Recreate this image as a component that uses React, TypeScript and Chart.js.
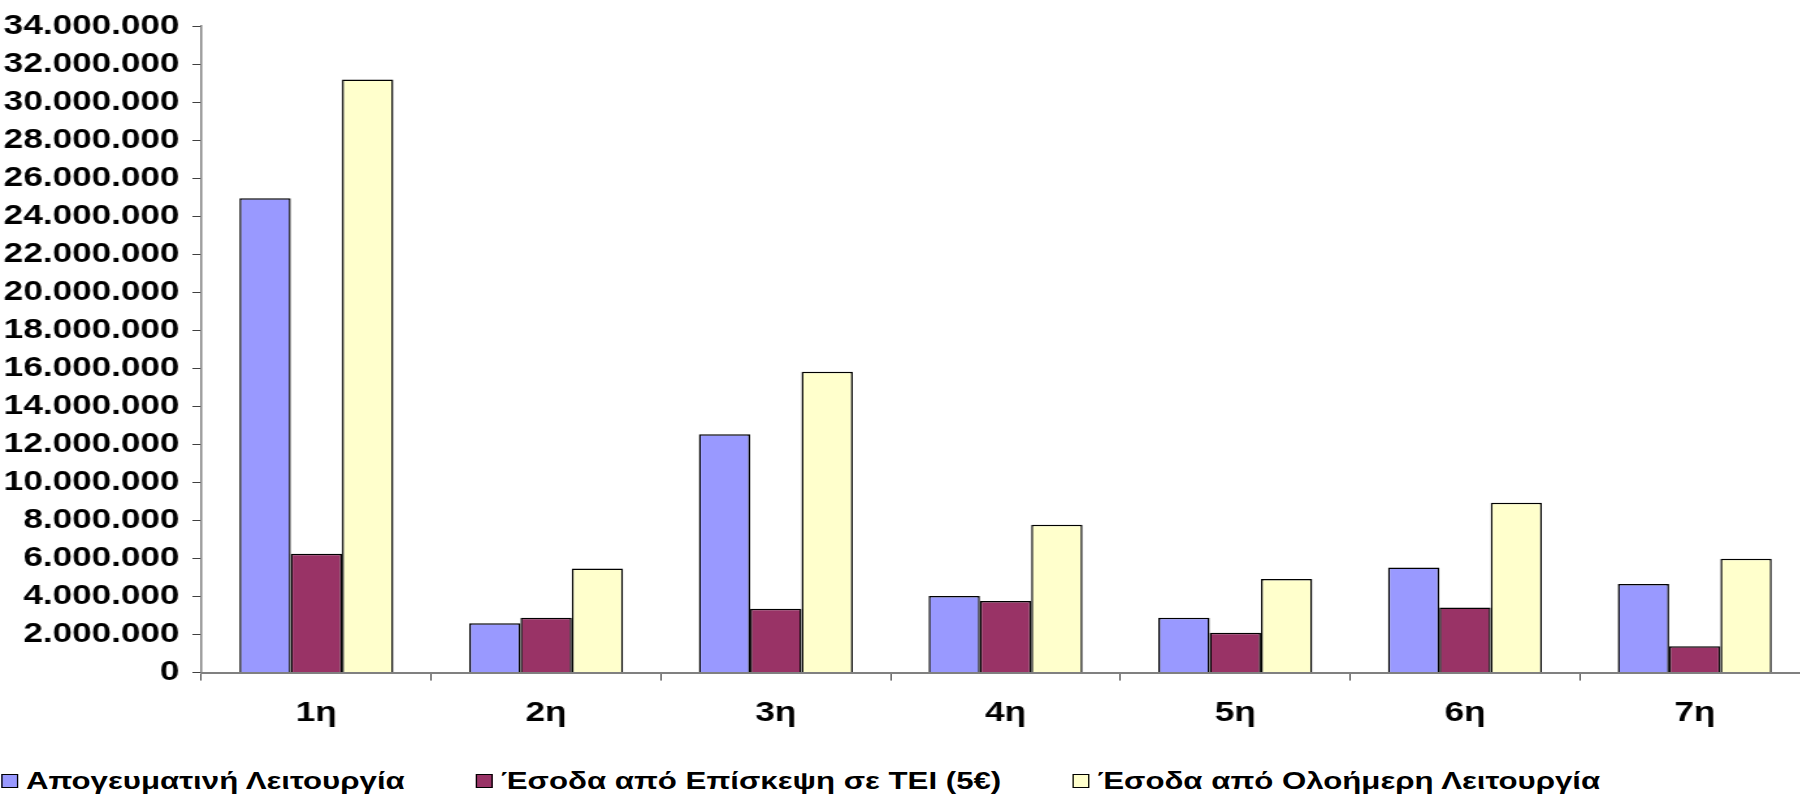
import { useEffect, useRef } from 'react';
import { Chart, registerables, type ChartConfiguration } from 'chart.js';

Chart.register(...registerables);

// the reference is drawn ~1.3x wider than tall, so the whole chart is laid out
// at 1384px and stretched horizontally to 1800px
const STRETCH = 1.3;
const FONT = '"Liberation Sans", Arial, sans-serif';

const categories = ['1η', '2η', '3η', '4η', '5η', '6η', '7η'];
const seriesNames = [
  'Απογευματινή Λειτουργία',
  'Έσοδα από Επίσκεψη σε ΤΕΙ (5€)',
  'Έσοδα από Ολοήμερη Λειτουργία',
];
const seriesColors = ['#9999FF', '#993366', '#FFFFCC'];

const afternoon = [24950000, 2600000, 12540000, 4030000, 2880000, 5530000, 4660000];
const teiVisits = [6250000, 2880000, 3360000, 3770000, 2090000, 3430000, 1390000];
const fullDay = [31200000, 5470000, 15830000, 7780000, 4920000, 8930000, 5990000];

const yMin = 0;
const yMax = 34000000;
const yStep = 2000000;

const fmt = (v: number) => String(Math.round(v)).replace(/\B(?=(\d{3})+(?!\d))/g, '.');

export default function App() {
  const canvasRef = useRef<HTMLCanvasElement>(null);

  useEffect(() => {
    const canvas = canvasRef.current;
    if (!canvas) return;
    Chart.defaults.font.family = FONT;

    const values = [afternoon, teiVisits, fullDay];
    const config: ChartConfiguration<'bar'> = {
      type: 'bar',
      data: {
        labels: categories,
        datasets: values.map((data, i) => ({
          label: seriesNames[i],
          data,
          backgroundColor: seriesColors[i],
          borderColor: '#000000',
          borderWidth: 1.5,
          categoryPercentage: 0.67,
          barPercentage: 1,
        })),
      },
      options: {
        responsive: true,
        maintainAspectRatio: false,
        animation: false,
        layout: { padding: { top: 20, right: 0, bottom: 0, left: 0 } },
        plugins: {
          legend: { display: false },
          tooltip: { enabled: false },
        },
        scales: {
          x: {
            grid: {
              offset: true,
              drawOnChartArea: false,
              drawTicks: true,
              tickLength: 8,
              color: '#404040',
              lineWidth: 1,
            },
            border: { display: true, color: '#808080', width: 2 },
            ticks: {
              color: '#000',
              font: { size: 27, weight: 'bold' },
              padding: 17,
              maxRotation: 0,
              autoSkip: false,
            },
          },
          y: {
            min: yMin,
            max: yMax,
            afterFit: (scale) => {
              scale.width = 155;
            },
            grid: { drawOnChartArea: false, tickLength: 7, color: '#404040', lineWidth: 1 },
            border: { display: true, color: '#808080', width: 1.5 },
            ticks: {
              stepSize: yStep,
              padding: 10,
              color: '#000',
              font: { size: 27, weight: 'bold' },
              callback: (v) => fmt(Number(v)),
            },
          },
        },
      },
    };

    const chart = new Chart(canvas, config);
    return () => chart.destroy();
  }, []);

  return (
    <div
      style={{
        position: 'absolute',
        left: 0,
        top: 0,
        width: 1384,
        height: 794,
        overflow: 'hidden',
        background: '#fff',
        transform: `scaleX(${STRETCH})`,
        transformOrigin: '0 0',
        fontFamily: FONT,
      }}
    >
      {/* the plot runs a little past the right edge, as in the reference */}
      <div style={{ position: 'relative', width: 1392, height: 747 }}>
        <canvas ref={canvasRef} />
      </div>
      <div
        style={{
          position: 'absolute',
          left: 1,
          top: 766,
          height: 30,
          display: 'flex',
          alignItems: 'center',
          gap: 55,
          fontSize: 24,
          fontWeight: 'bold',
          color: '#000',
          whiteSpace: 'nowrap',
        }}
      >
        {seriesNames.map((name, i) => (
          <span key={name} style={{ display: 'flex', alignItems: 'center' }}>
            <span
              style={{
                display: 'inline-block',
                width: 13,
                height: 14,
                background: seriesColors[i],
                border: '1px solid #000',
                boxSizing: 'border-box',
                marginRight: 6,
              }}
            />
            {name}
          </span>
        ))}
      </div>
    </div>
  );
}
